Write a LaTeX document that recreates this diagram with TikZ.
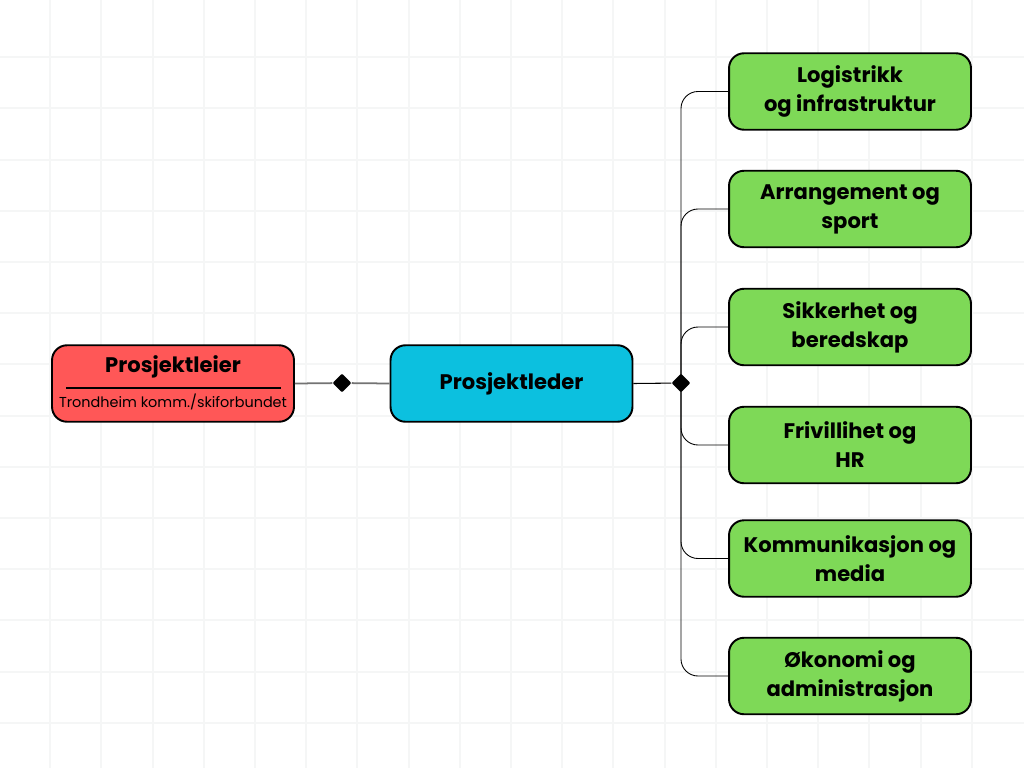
\documentclass[tikz,border=0pt]{standalone}
\usepackage{fontspec}
\setmainfont{Poppins}
\usetikzlibrary{shapes.geometric}
\definecolor{gridgray}{HTML}{F5F6F6}
\definecolor{leierred}{HTML}{FF5757}
\definecolor{ledercyan}{HTML}{0CC0DF}
\definecolor{teamgreen}{HTML}{7ED957}
\definecolor{linkgray}{HTML}{737373}
\tikzset{
  box/.style={draw=black, line width=1.1pt, rounded corners=0.3cm,
    minimum width=4.84cm, minimum height=1.53cm, align=center,
    font=\fontsize{12}{16.5}\selectfont\bfseries},
  knot/.style={diamond, fill=black, inner sep=0pt, minimum size=0.38cm,
    rounded corners=0.5pt},
  branch/.style={line width=0.5pt, rounded corners=0.34cm}
}

\begin{document}
\begin{tikzpicture}[x=0.02cm, y=-0.02cm]
  \useasboundingbox (0,0) rectangle (1024,768);
  \fill[white] (0,0) rectangle (1024,768);

  % background grid
  \foreach \k in {1,...,19} {
    \draw[gridgray, line width=1.1pt] ({51.2*\k-1}, 0) -- ({51.2*\k-1}, 768);
  }
  \foreach \k in {1,...,14} {
    \draw[gridgray, line width=1.1pt] (0, {6+51.2*\k}) -- (1024, {6+51.2*\k});
  }

  % project owner
  \node[box, fill=leierred] (leier) at (173,383.5) {};
  \node[font=\fontsize{12}{14}\selectfont\bfseries] (leiertitle) at (173,367) {Prosjektleier};
  \coordinate (rulea) at (66,388);
  \coordinate (ruleb) at (281,388);
  \draw[line width=0.6pt] (rulea) -- (ruleb);
  \node[font=\fontsize{8.2}{10}\selectfont] (leiersub) at (173,402) {Trondheim komm./skiforbundet};

  % project manager
  \node[box, fill=ledercyan] (leder) at (511.5,383.5) {Prosjektleder};

  \node[knot] (d1) at (342,383) {};
  \node[knot] (d2) at (681,383) {};
  \draw[linkgray, line width=1pt] (leier.east) -- (d1) -- (leder.west);
  \draw[line width=0.6pt] (leder.east) -- (d2);

  % teams
  \foreach \y/\txt [count=\i] in {
      91.5/{Logistrikk\\og infrastruktur},
      209/{Arrangement og\\sport},
      327/{Sikkerhet og\\beredskap},
      445/{Frivillihet og\\HR},
      558.5/{Kommunikasjon og\\media},
      676/{Økonomi og\\administrasjon}} {
    \node[box, fill=teamgreen] (team\i) at (850,\y) {\txt};
    \draw[branch] (d2.center) |- (team\i.west);
  }
\end{tikzpicture}
\end{document}
